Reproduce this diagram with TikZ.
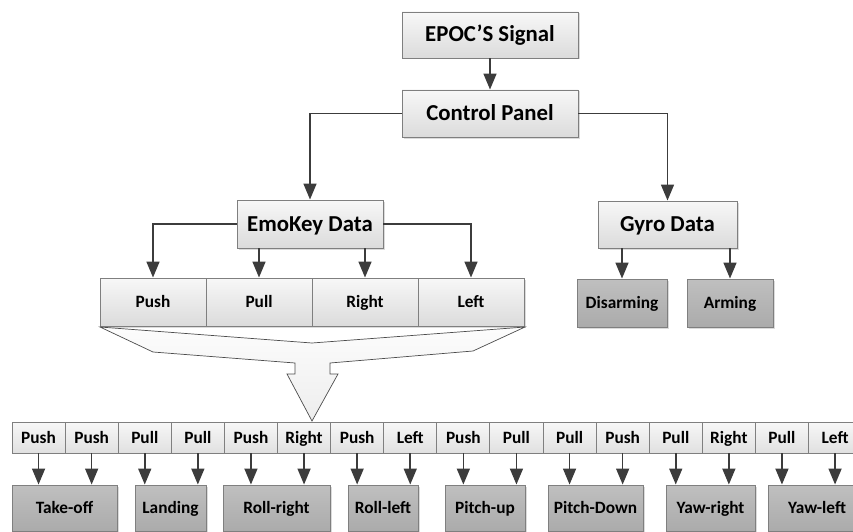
\documentclass[tikz,border=0pt]{standalone}
\usepackage{fontspec}
\setmainfont{Carlito}
\usetikzlibrary{arrows.meta,shadows}
\definecolor{edgegray}{HTML}{7F7F7F}
\definecolor{arrgray}{HTML}{3C3C3C}
\tikzset{
  basebox/.style={draw=edgegray, line width=0.9pt, inner sep=0pt, anchor=center},
  lightbox/.style={basebox, top color=white!97!black, bottom color=white!86!black,
     drop shadow={fill=black!14, opacity=1, shadow xshift=1.5pt, shadow yshift=-1.5pt}},
  darkbox/.style={basebox, top color=white!75!black, bottom color=white!67!black,
     drop shadow={fill=black!14, opacity=1, shadow xshift=1.5pt, shadow yshift=-1.5pt}},
  bigtxt/.style={font=\fontsize{22.8}{25}\selectfont\bfseries, text height=14pt, text depth=0pt},
  smalltxt/.style={font=\fontsize{17.3}{20}\selectfont\bfseries, text height=11pt, text depth=0pt},
  cell/.style={basebox, top color=white!97!black, bottom color=white!88!black, smalltxt},
  conn/.style={draw=arrgray, line width=1.6pt, -{Triangle[length=16pt,width=13pt]}},
}
\begin{document}
\begin{tikzpicture}[x=1pt,y=-1pt]
\useasboundingbox (0,0) rectangle (853,532);
\begin{scope}
\clip (0,0) rectangle (853,532);
% top boxes
\node[lightbox,bigtxt,minimum width=176pt,minimum height=46pt] (epoc) at (490,35) {EPOC’S Signal};
\node[lightbox,bigtxt,minimum width=176pt,minimum height=47pt] (cp) at (490,113.5) {Control Panel};
\node[lightbox,bigtxt,minimum width=146pt,minimum height=48pt] (ek) at (310,224) {EmoKey Data};
\node[lightbox,bigtxt,minimum width=139pt,minimum height=47pt] (gy) at (667.5,224.5) {Gyro Data};
% table
\node[lightbox,smalltxt,minimum width=106pt,minimum height=48pt] (t1) at (153,302) {Push};
\node[lightbox,smalltxt,minimum width=106pt,minimum height=48pt] (t2) at (259,302) {Pull};
\node[lightbox,smalltxt,minimum width=106pt,minimum height=48pt] (t3) at (365,302) {Right};
\node[lightbox,smalltxt,minimum width=106pt,minimum height=48pt] (t4) at (471,302) {Left};
% gyro outputs
\node[darkbox,smalltxt,minimum width=90pt,minimum height=48pt] (dis) at (622,303) {Disarming};
\node[darkbox,smalltxt,minimum width=86pt,minimum height=48pt] (arm) at (730,303) {Arming};
% funnel arrow
\draw[draw=black!70, line width=0.7pt, top color=white!99!black, bottom color=white!93!black]
  (100,327) -- (312,343) -- (525,327) -- (473,351) -- (330,363) -- (330,374) -- (338,374)
  -- (312,421) -- (287,374) -- (295,374) -- (295,363) -- (153,352) -- cycle;
% connectors top
\draw[conn] (epoc) -- (cp);
\draw[conn] (cp.west) -| (ek.north);
\draw[conn] (cp.east) -| (gy.north);
\draw[conn] (ek.west) -| (t1.north);
\draw[conn] (ek.east) -| (t4.north);
\draw[conn] (ek.south -| t2.north) -- (t2.north);
\draw[conn] (ek.south -| t3.north) -- (t3.north);
\draw[conn] (gy.south -| dis.north) -- (dis.north);
\draw[conn] (gy.south -| arm.north) -- (arm.north);
% bottom cells
\foreach \i/\t in {1/Push,2/Push,3/Pull,4/Pull,5/Push,6/Right,7/Push,8/Left,9/Push,10/Pull,11/Pull,12/Push,13/Pull,14/Right,15/Pull,16/Left}{
  \node[cell,minimum width=53.1pt,minimum height=31pt] (b\i) at ({12+53.1*(\i-0.5)},437.5) {\t};
}
% output boxes
\node[darkbox,smalltxt,minimum width=105pt,minimum height=46pt] (o1) at (64.5,508) {Take-off};
\node[darkbox,smalltxt,minimum width=71pt,minimum height=46pt] (o2) at (170.5,508) {Landing};
\node[darkbox,smalltxt,minimum width=107pt,minimum height=46pt] (o3) at (276.5,508) {Roll-right};
\node[darkbox,smalltxt,minimum width=70pt,minimum height=46pt] (o4) at (383,508) {Roll-left};
\node[darkbox,smalltxt,minimum width=80pt,minimum height=46pt] (o5) at (485,508) {Pitch-up};
\node[darkbox,smalltxt,minimum width=95pt,minimum height=46pt] (o6) at (595.5,508) {Pitch-Down};
\node[darkbox,smalltxt,minimum width=89pt,minimum height=46pt] (o7) at (710.5,508) {Yaw-right};
\node[darkbox,smalltxt,minimum width=98pt,minimum height=46pt] (o8) at (817,508) {Yaw-left};
\foreach \a/\o in {1/1,2/1,3/2,4/2,5/3,6/3,7/4,8/4,9/5,10/5,11/6,12/6,13/7,14/7,15/8,16/8}{
  \draw[conn] (b\a.south) -- (b\a.south |- o\o.north);
}
\end{scope}
\end{tikzpicture}
\end{document}
